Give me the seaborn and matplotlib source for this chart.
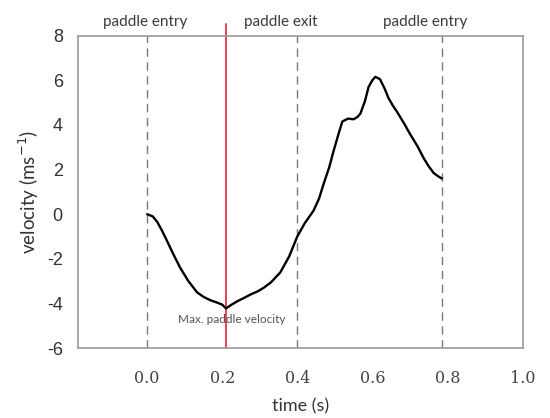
import numpy as np
import pandas as pd
import seaborn as sns
import matplotlib.pyplot as plt

# velocity trace
time_s = [0.0, 0.015, 0.027, 0.04, 0.053, 0.07, 0.088, 0.11, 0.133, 0.15, 0.168, 0.185,
          0.2, 0.21, 0.225, 0.24, 0.258, 0.275, 0.295, 0.31, 0.33, 0.355, 0.378, 0.4,
          0.42, 0.443, 0.458, 0.47, 0.485, 0.497, 0.51, 0.52, 0.535, 0.55, 0.56, 0.568,
          0.58, 0.59, 0.6, 0.608, 0.62, 0.632, 0.643, 0.655, 0.667, 0.685, 0.70, 0.72,
          0.737, 0.75, 0.763, 0.775, 0.785]
velocity = [0.0, -0.1, -0.35, -0.75, -1.2, -1.8, -2.4, -3.0, -3.5, -3.7, -3.85, -3.95,
            -4.05, -4.22, -4.05, -3.9, -3.75, -3.6, -3.45, -3.3, -3.05, -2.6, -1.9, -1.0,
            -0.4, 0.15, 0.7, 1.35, 2.1, 2.85, 3.6, 4.15, 4.28, 4.25, 4.35, 4.5,
            5.05, 5.7, 6.0, 6.15, 6.05, 5.65, 5.2, 4.85, 4.55, 4.05, 3.6, 3.05,
            2.5, 2.15, 1.85, 1.7, 1.6]

phase_times = [0.0, 0.4, 0.785]
phase_labels = ['paddle entry', 'paddle exit', 'paddle entry']
phase_label_x = [-0.005, 0.355, 0.74]
max_vel_time = 0.21

df = pd.DataFrame({'time': time_s, 'velocity': velocity})

sns.set_style('white')
fig, ax = plt.subplots(figsize=(5.5, 4.18), dpi=100)
fig.subplots_adjust(left=0.142, right=0.95, top=0.915, bottom=0.167)

for t in phase_times:
    ax.axvline(t, color='#7a7a7a', linestyle=(0, (6, 4)), linewidth=1.0, zorder=1)

ax.plot([max_vel_time, max_vel_time], [-6, 8.5], color='#e8304a', linewidth=1.3,
        clip_on=False, zorder=2)

sns.lineplot(data=df, x='time', y='velocity', ax=ax, color='black', linewidth=1.7,
             zorder=3)

for x, lab in zip(phase_label_x, phase_labels):
    ax.text(x, 8.3, lab, ha='center', va='bottom', fontsize=11, color='#3a3a3a',
            family='Lato')

ax.text(0.224, -4.45, 'Max. paddle velocity', ha='center', va='top',
        fontsize=8.5, color='#555555', family='Lato')

ax.set_xlim(-0.184, 1.0)
ax.set_ylim(-6, 8)
ax.set_xticks([0.0, 0.2, 0.4, 0.6, 0.8, 1.0])
ax.set_xticklabels(['0.0', '0.2', '0.4', '0.6', '0.8', '1.0'], family='DejaVu Serif',
                   fontsize=11.5, color='#444444')
ax.set_yticks([-6, -4, -2, 0, 2, 4, 6, 8])
ax.set_yticklabels(['-6', '-4', '-2', '0', '2', '4', '6', '8'], family='Liberation Sans',
                   fontsize=13, color='#333333')
ax.tick_params(axis='x', pad=13)
ax.tick_params(axis='y', pad=8)

ax.set_xlabel('time (s)', fontsize=13, color='#333333', family='Lato', labelpad=8)
ax.set_ylabel('velocity (ms$^{-1}$)', fontsize=13.5, color='#333333', family='Lato',
              labelpad=4)

for s in ax.spines.values():
    s.set_color('#9a9a9a')
    s.set_linewidth(1.2)
ax.tick_params(axis='both', direction='out', length=3, color='#9a9a9a')

fig.savefig('out.png', dpi=100)
